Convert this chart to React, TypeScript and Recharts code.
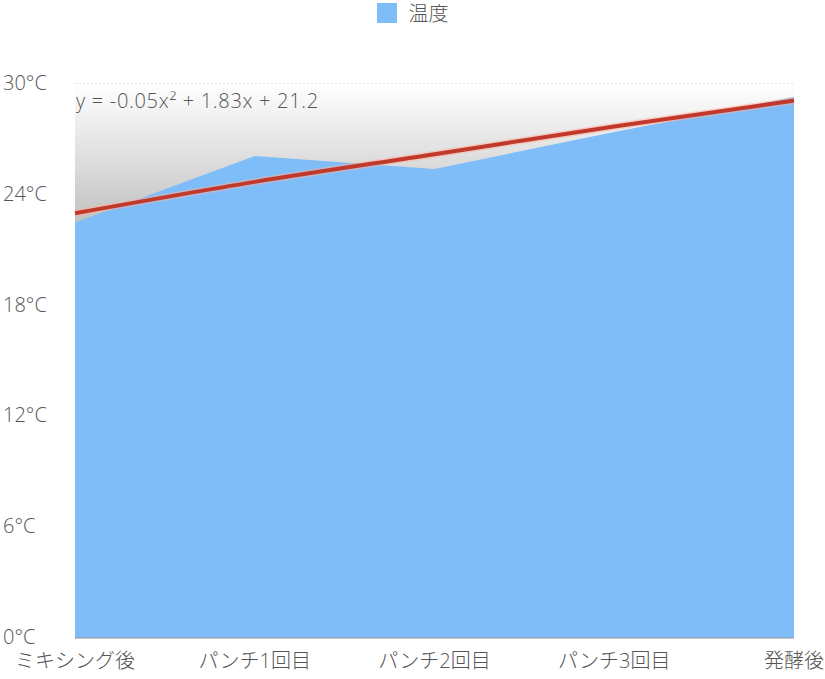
import { ComposedChart, Area, Line, XAxis, YAxis, CartesianGrid, ReferenceArea, ReferenceLine, Legend } from "recharts";

const stages = ["ミキシング後", "パンチ1回目", "パンチ2回目", "パンチ3回目", "発酵後"];
const temps = [22.5, 26.1, 25.4, 27.4, 29.3];
const trend = [23.0, 24.7, 26.2, 27.7, 29.1];
const yTicks = [0, 6, 12, 18, 24, 30];
const equation = "y = -0.05x² + 1.83x + 21.2";

const data = stages.map((s, i) => ({ stage: s, temp: temps[i], trend: trend[i] }));

const FONT = '"Open Sans", "Noto Sans CJK JP", sans-serif';
const TEXT = "#555";

const YTick = ({ y, payload }: any) => (
  <text x={3} y={y} dy={6} textAnchor="start" fontSize={20} fill={TEXT} fontFamily={FONT} fontWeight={300}>
    {payload.value}°C
  </text>
);

const EqLabel = ({ viewBox }: any) => (
  <text x={viewBox.x + 1} y={viewBox.y + 24} fontSize={20} letterSpacing={0.7} fill={TEXT} fontFamily={FONT} fontWeight={300}>
    {equation}
  </text>
);

const LegendBox = () => (
  <div style={{ display: "flex", justifyContent: "center", alignItems: "center", fontFamily: FONT, fontSize: 20, color: TEXT, fontWeight: 300 }}>
    <span style={{ display: "inline-block", width: 20, height: 20, background: "#7fbdf9", marginRight: 12 }} />
    <span>温度</span>
  </div>
);

export default function App() {
  return (
    <div style={{ position: "absolute", left: 0, top: 0, background: "#fff" }}>
      <ComposedChart width={825} height={679} data={data} margin={{ top: 60, right: 31, bottom: 0, left: 0 }}>
        <defs>
          <linearGradient id="shade" x1="0" y1="0" x2="0" y2="1">
            <stop offset="0%" stopColor="#ffffff" />
            <stop offset="100%" stopColor="#bdbdbd" />
          </linearGradient>
        </defs>
        <Legend
          verticalAlign="top"
          content={<LegendBox />}
          wrapperStyle={{ top: -2, left: 0, width: 825, height: 24 }}
        />
        <ReferenceArea y1={22} y2={30} fill="url(#shade)" fillOpacity={1} stroke="none" label={<EqLabel />} ifOverflow="visible" />
        <CartesianGrid vertical={false} stroke="#c4c4c4" strokeDasharray="2 2" />
        <XAxis
          dataKey="stage"
          interval={0}
          tickLine={false}
          tickSize={0}
          tickMargin={16}
          axisLine={false}
          height={41}
          tick={{ fontSize: 20, fill: TEXT, fontFamily: FONT, fontWeight: 300 }}
        />
        <YAxis
          domain={[0, 30]}
          ticks={yTicks}
          width={75}
          axisLine={false}
          tickLine={false}
          tick={<YTick />}
        />
        <Area
          type="linear"
          dataKey="temp"
          name="温度"
          fill="#7fbdf9"
          fillOpacity={1}
          stroke="none"
          legendType="square"
          isAnimationActive={false}
        />
        <ReferenceLine y={0} stroke="#999" strokeWidth={1} />
        <Line
          type="monotone"
          dataKey="trend"
          stroke="#ffb0a0"
          strokeOpacity={0.5}
          strokeWidth={7}
          dot={false}
          legendType="none"
          isAnimationActive={false}
        />
        <Line
          type="monotone"
          dataKey="trend"
          stroke="#c0392b"
          strokeWidth={4}
          dot={false}
          legendType="none"
          isAnimationActive={false}
        />
      </ComposedChart>
    </div>
  );
}
